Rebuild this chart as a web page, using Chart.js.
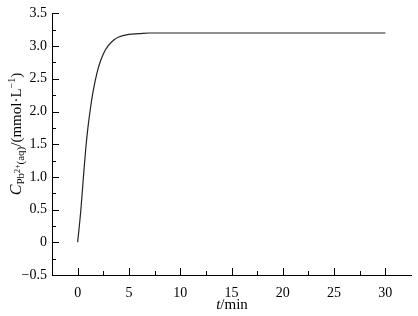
<!DOCTYPE html>
<html>
<head>
<meta charset="utf-8">
<script src="https://cdn.jsdelivr.net/npm/chart.js@4/dist/chart.umd.min.js"></script>
<style>
  html, body { margin: 0; padding: 0; background: #fff; }
  #chart { display: block; }
</style>
</head>
<body>
<canvas id="chart" width="418" height="316"></canvas>
<script>
// time (min) and dissolved Pb2+ concentration (mmol/L)
const times = [0, 0.3, 0.55, 0.8, 1.0, 1.25, 1.5, 2.0, 2.5, 3.0, 3.5, 4.0, 5.0, 6.0, 7.0, 8.0, 10, 15, 20, 25, 30];
const conc = [0, 0.47, 0.97, 1.45, 1.75, 2.05, 2.3, 2.66, 2.88, 3.01, 3.09, 3.14, 3.18, 3.19, 3.2, 3.2, 3.2, 3.2, 3.2, 3.2, 3.2];

const xMajor = [0, 5, 10, 15, 20, 25, 30];
const xMinor = [2.5, 7.5, 12.5, 17.5, 22.5, 27.5];
const yMajor = [-0.5, 0, 0.5, 1.0, 1.5, 2.0, 2.5, 3.0, 3.5];
const yMinor = [-0.25, 0.25, 0.75, 1.25, 1.75, 2.25, 2.75, 3.25];

const FONT = '"Liberation Serif", "Times New Roman", serif';
const ctx = document.getElementById('chart');

const fmtY = v => v === 0 ? '0' : v.toFixed(1).replace('-', '\u2212');

// inward tick marks plus the two axis titles (with sub/superscripts)
const decorations = {
    id: 'decorations',
    afterDraw(chart) {
        const c = chart.ctx;
        const xs = chart.scales.x;
        const ys = chart.scales.y;
        const area = chart.chartArea;
        c.save();
        c.strokeStyle = '#000';
        c.lineWidth = 1;
        c.beginPath();
        xMajor.forEach(v => {
            const px = Math.round(xs.getPixelForValue(v)) + 0.5;
            c.moveTo(px, area.bottom); c.lineTo(px, area.bottom - 7);
        });
        xMinor.forEach(v => {
            const px = Math.round(xs.getPixelForValue(v)) + 0.5;
            c.moveTo(px, area.bottom); c.lineTo(px, area.bottom - 4);
        });
        yMajor.forEach(v => {
            const py = Math.round(ys.getPixelForValue(v)) + 0.5;
            c.moveTo(area.left, py); c.lineTo(area.left + 7, py);
        });
        yMinor.forEach(v => {
            const py = Math.round(ys.getPixelForValue(v)) + 0.5;
            c.moveTo(area.left, py); c.lineTo(area.left + 4, py);
        });
        c.stroke();

        // x title: t/min
        c.fillStyle = '#000';
        c.textBaseline = 'alphabetic';
        drawRuns(c, [
            { t: 't', f: 'italic 15px ' + FONT, dy: 0 },
            { t: '/min', f: '15px ' + FONT, dy: 0 }
        ], 232, 309);

        // y title, rotated
        c.translate(16, 134);
        c.rotate(-Math.PI / 2);
        drawRuns(c, [
            { t: 'C', f: 'italic 16px ' + FONT, dy: 0 },
            { t: 'Pb', f: '11px ' + FONT, dy: 3 },
            { t: '2+', f: '8px ' + FONT, dy: -1 },
            { t: '(aq)', f: '11px ' + FONT, dy: 3 },
            { t: '/(mmol\u00b7L', f: '15px ' + FONT, dy: 0 },
            { t: '\u22121', f: '10px ' + FONT, dy: -6 },
            { t: ')', f: '15px ' + FONT, dy: 0 }
        ], 0, 5);
        c.restore();
    }
};

function drawRuns(c, runs, cx, baseY) {
    let total = 0;
    runs.forEach(r => { c.font = r.f; r.w = c.measureText(r.t).width; total += r.w; });
    let x = cx - total / 2;
    c.textAlign = 'left';
    runs.forEach(r => {
        c.font = r.f;
        c.fillText(r.t, x, baseY + r.dy);
        x += r.w;
    });
}

new Chart(ctx, {
    type: 'line',
    data: {
        datasets: [{
            data: times.map((t, i) => ({ x: t, y: conc[i] })),
            borderColor: '#222',
            borderWidth: 1.2,
            pointRadius: 0,
            fill: false,
            cubicInterpolationMode: 'monotone'
        }]
    },
    options: {
        responsive: false,
        animation: false,
        layout: { padding: { top: 11, right: 7, left: 0, bottom: 0 } },
        plugins: { legend: { display: false }, tooltip: { enabled: false } },
        scales: {
            x: {
                type: 'linear',
                min: -2.5,
                max: 32.5,
                afterBuildTicks: s => { s.ticks = xMajor.map(v => ({ value: v })); },
                afterFit: s => { s.height = 41; },
                grid: { display: false, drawTicks: false },
                border: { display: true, color: '#000', width: 1 },
                ticks: {
                    color: '#000',
                    padding: 10,
                    maxRotation: 0,
                    font: { family: FONT, size: 14 },
                    callback: v => String(v)
                }
            },
            y: {
                min: -0.5,
                max: 3.5,
                afterBuildTicks: s => { s.ticks = yMajor.map(v => ({ value: v })); },
                afterFit: s => { s.width = 52; },
                grid: { display: false, drawTicks: false },
                border: { display: true, color: '#000', width: 1 },
                ticks: {
                    color: '#000',
                    padding: 5,
                    font: { family: FONT, size: 14 },
                    callback: v => fmtY(v)
                }
            }
        }
    },
    plugins: [decorations]
});
</script>
</body>
</html>
